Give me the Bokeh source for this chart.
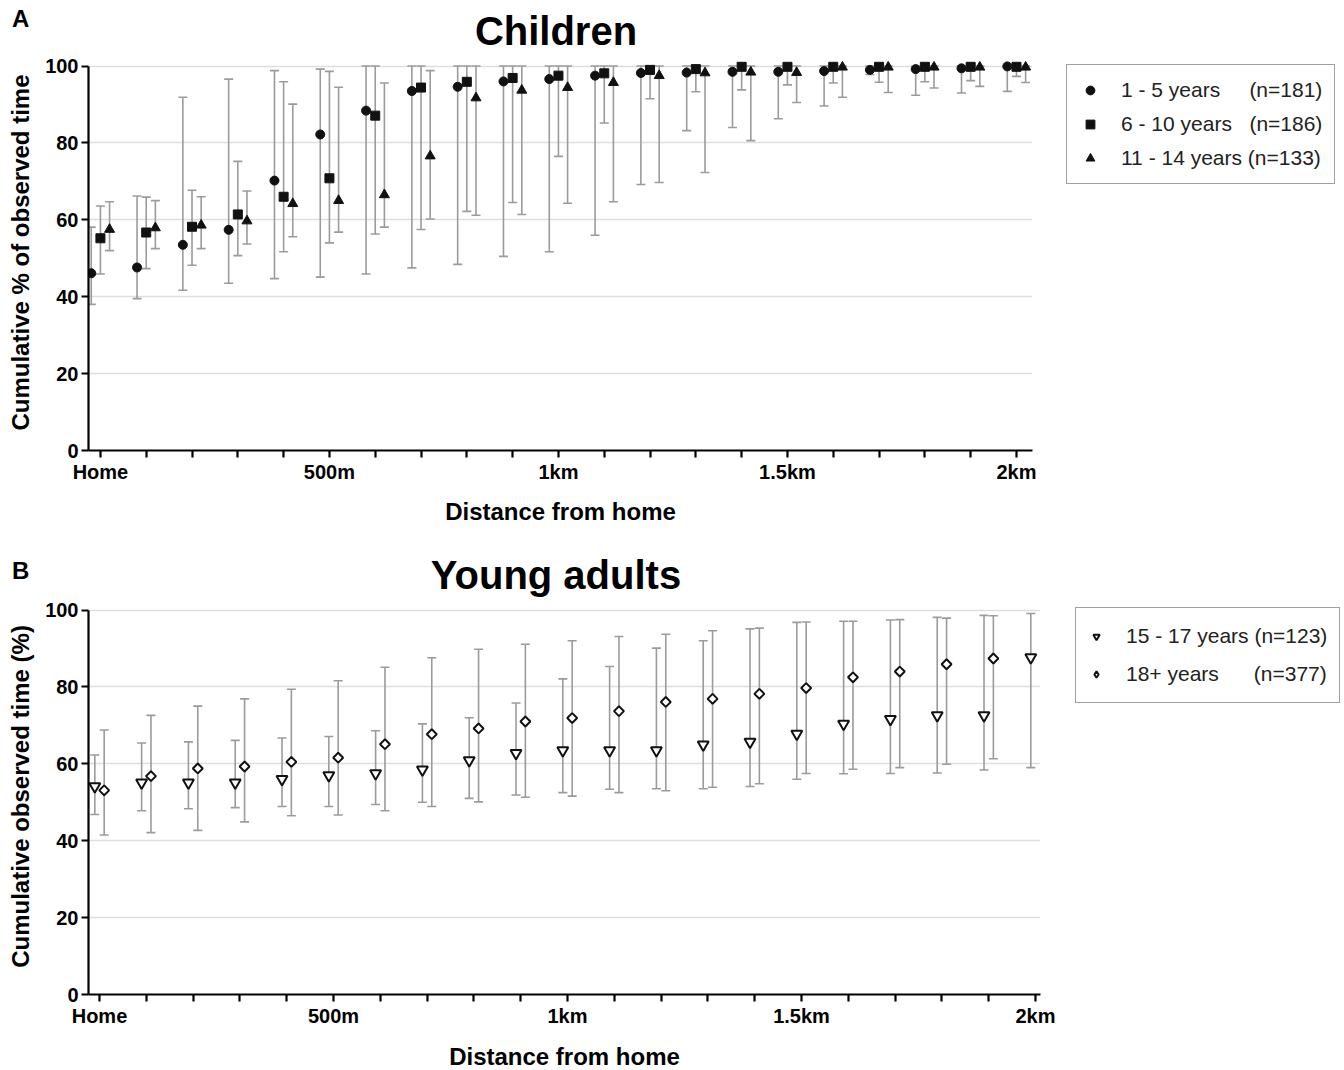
from bokeh.plotting import figure
from bokeh.models import (ColumnDataSource, Whisker, TeeHead, FixedTicker, Range1d,
                          Legend, LegendItem, Div)
from bokeh.layouts import column
from bokeh.embed import file_html
from bokeh.resources import INLINE

# ---------------- data ----------------
distances = [0, 100, 200, 300, 400, 500, 600, 700, 800, 900, 1000,
             1100, 1200, 1300, 1400, 1500, 1600, 1700, 1800, 1900, 2000]
tick_labels = {0: "Home", 500: "500m", 1000: "1km", 1500: "1.5km", 2000: "2km"}
y_ticks = [0, 20, 40, 60, 80, 100]

# Panel A - children
a1_label = "1 - 5 years"
a1_n = "(n=181)"
a1_mean = [46.1, 47.6, 53.5, 57.4, 70.2, 82.2, 88.4, 93.5, 94.6, 96.0, 96.6,
           97.5, 98.2, 98.3, 98.5, 98.5, 98.7, 99.0, 99.2, 99.4, 99.9]
a1_low = [38.0, 39.5, 41.7, 43.5, 44.7, 45.1, 45.9, 47.5, 48.4, 50.5, 51.7,
          56.0, 69.2, 83.2, 84.0, 86.3, 89.6, 97.8, 92.4, 93.0, 93.4]
a1_high = [58.1, 66.2, 91.9, 96.6, 98.8, 99.2, 100, 100, 100, 100, 100,
           100, 100, 100, 100, 100, 100, 100, 100, 100, 100]

a2_label = "6 - 10 years"
a2_n = "(n=186)"
a2_mean = [55.2, 56.7, 58.2, 61.4, 66.0, 70.8, 87.1, 94.4, 95.9, 96.9, 97.5,
           98.1, 99.0, 99.2, 99.8, 99.8, 99.8, 99.8, 99.8, 99.8, 99.8]
a2_low = [45.9, 47.3, 48.2, 50.7, 51.7, 54.0, 56.3, 57.5, 62.2, 64.5, 76.5,
          85.2, 91.5, 93.3, 93.8, 95.1, 95.6, 95.8, 95.9, 96.2, 97.3]
a2_high = [63.6, 65.9, 67.7, 75.2, 95.9, 98.6, 100, 100, 100, 100, 100,
           100, 100, 100, 100, 100, 100, 100, 100, 100, 100]

a3_label = "11 - 14 years"
a3_n = "(n=133)"
a3_mean = [57.5, 57.9, 58.6, 59.7, 64.2, 65.0, 66.5, 76.6, 91.7, 93.7, 94.4,
           95.7, 97.5, 98.2, 98.4, 98.3, 99.7, 99.7, 99.7, 99.7, 99.7]
a3_low = [52.0, 52.5, 52.5, 53.7, 55.6, 56.8, 58.1, 60.2, 61.2, 61.4, 64.3,
          64.7, 69.7, 72.3, 80.6, 90.5, 91.9, 93.1, 94.3, 94.7, 95.7]
a3_high = [64.7, 65.0, 66.0, 67.5, 90.1, 94.5, 95.6, 98.8, 100, 100, 100,
           100, 100, 100, 100, 100, 100, 100, 100, 100, 100]

# Panel B - young adults
b1_label = "15 - 17 years"
b1_n = "(n=123)"
b1_mean = [54.1, 55.1, 55.1, 55.1, 56.0, 57.0, 57.5, 58.5, 60.9, 62.8, 63.5,
           63.5, 63.5, 65.0, 65.7, 67.8, 70.4, 71.6, 72.6, 72.6, 87.7]
b1_low = [46.8, 47.8, 48.3, 48.6, 48.9, 48.9, 49.4, 50.0, 51.0, 51.9, 52.5,
          53.4, 53.5, 53.5, 54.1, 56.0, 57.4, 57.5, 57.6, 58.4, 59.0]
b1_high = [62.3, 65.4, 65.7, 66.1, 66.7, 67.1, 68.6, 70.4, 72.0, 75.8, 82.1,
           85.3, 90.1, 92.0, 95.1, 96.8, 97.1, 97.4, 98.1, 98.6, 99.1]

b2_label = "18+ years"
b2_n = "(n=377)"
b2_mean = [53.1, 56.8, 58.8, 59.3, 60.5, 61.6, 65.1, 67.7, 69.2, 71.0, 71.9,
           73.7, 76.1, 76.9, 78.2, 79.7, 82.5, 84.0, 85.9, 87.4]
b2_low = [41.5, 42.1, 42.7, 44.9, 46.5, 46.7, 47.8, 48.9, 50.1, 51.3, 51.6,
          52.5, 53.0, 53.9, 54.8, 57.5, 58.6, 59.0, 59.9, 61.3]
b2_high = [68.8, 72.6, 75.0, 76.9, 79.4, 81.6, 85.1, 87.6, 89.8, 91.1, 92.0,
           93.1, 93.7, 94.6, 95.3, 96.9, 97.1, 97.5, 97.9, 98.5]

# ---------------- style ----------------
FONT = "Liberation Sans"
ERR_COLOR = "#9b9b9b"
MARK = "#111111"
GRID = "#dedede"
NBSP = "\u00a0"
TOTAL_W = 1340


def legend_text(label, n, pad):
    return label + NBSP * pad + n


def header(letter, title, height, letter_top, title_top):
    html = (
        f'<div style="position:relative;width:{TOTAL_W}px;height:{height}px;'
        f'font-family:\'Liberation Sans\',Arial,sans-serif;font-weight:bold;color:#000;">'
        f'<div style="position:absolute;left:12px;top:{letter_top}px;'
        f'font-size:24px;line-height:24px;">{letter}</div>'
        f'<div style="position:absolute;left:0px;width:1112px;text-align:center;'
        f'top:{title_top}px;font-size:40px;line-height:46px;">{title}</div>'
        f'</div>'
    )
    return Div(text=html, width=TOTAL_W, height=height, margin=(0, 0, 0, 0))


def make_panel(x_start, x_end, frame_w, bottom, ylabel, label_standoff, total_w):
    p = figure(frame_width=frame_w, frame_height=396,
               x_range=Range1d(x_start, x_end), y_range=Range1d(0, 103),
               output_backend="svg", toolbar_location=None, title_location=None,
               min_border_left=88, min_border_right=total_w - 88 - frame_w,
               min_border_top=0, min_border_bottom=bottom)
    p.outline_line_color = None
    p.background_fill_color = "white"
    p.xgrid.visible = False
    p.ygrid.ticker = FixedTicker(ticks=y_ticks)
    p.ygrid.grid_line_color = GRID
    p.ygrid.grid_line_width = 1.5

    for ax in (p.xaxis[0], p.yaxis[0]):
        ax.axis_line_width = 2.2
        ax.axis_line_color = "black"
        ax.major_tick_line_width = 2.2
        ax.major_tick_line_color = "black"
        ax.major_tick_out = 7
        ax.major_tick_in = 0
        ax.minor_tick_line_color = None
        ax.major_label_text_font = FONT
        ax.major_label_text_font_style = "bold"
        ax.major_label_text_font_size = "20px"
        ax.major_label_text_color = "black"
        ax.axis_label_text_font = FONT
        ax.axis_label_text_font_style = "bold"
        ax.axis_label_text_font_size = "24px"
        ax.axis_label_text_color = "black"

    xa = p.xaxis[0]
    xa.ticker = FixedTicker(ticks=distances)
    xa.major_label_overrides = {d: tick_labels.get(d, "") for d in distances}
    xa.major_label_standoff = 3
    xa.axis_label = "Distance from home"
    xa.axis_label_standoff = label_standoff

    ya = p.yaxis[0]
    ya.ticker = FixedTicker(ticks=y_ticks)
    ya.bounds = (0, 100)
    ya.major_label_standoff = 3
    ya.axis_label = ylabel
    ya.axis_label_standoff = 8
    return p


def add_series(p, dist, mean, low, high, offset, marker, size, fill, line_w,
               angle=0.0):
    src = ColumnDataSource(dict(x=[d + offset for d in dist], y=mean,
                                lo=low, hi=high))
    w = Whisker(base="x", lower="lo", upper="hi", source=src, dimension="height",
                line_color=ERR_COLOR, line_width=1.6,
                lower_head=TeeHead(size=9, line_color=ERR_COLOR, line_width=1.6),
                upper_head=TeeHead(size=9, line_color=ERR_COLOR, line_width=1.6))
    p.add_layout(w)
    r = p.scatter("x", "y", source=src, marker=marker, size=size,
                  fill_color=fill, line_color=MARK, line_width=line_w,
                  angle=angle)
    return r


def style_legend(leg, pad, lh, spacing, gw, standoff):
    leg.border_line_color = "#444444"
    leg.border_line_width = 1.5
    leg.background_fill_color = "white"
    leg.background_fill_alpha = 1.0
    leg.label_text_font = FONT
    leg.label_text_font_size = "21px"
    leg.label_text_color = "#222222"
    leg.padding = pad
    leg.label_height = lh
    leg.glyph_height = lh
    leg.glyph_width = gw
    leg.spacing = spacing
    leg.label_standoff = standoff
    leg.margin = 0


# ---------------- panel A ----------------
head_a = header("A", "Children", 54, 7, 8)
pa = make_panel(-26, 2035, 944, 102, "Cumulative % of observed time", 12, TOTAL_W)
ra1 = add_series(pa, distances, a1_mean, a1_low, a1_high, -20, "circle", 9, MARK, 1)
ra2 = add_series(pa, distances, a2_mean, a2_low, a2_high, 0, "square", 9, MARK, 1)
ra3 = add_series(pa, distances, a3_mean, a3_low, a3_high, 20, "triangle", 10, MARK, 1)

leg_a = Legend(items=[
    LegendItem(label=legend_text(a1_label, a1_n, 5), renderers=[ra1]),
    LegendItem(label=legend_text(a2_label, a2_n, 3), renderers=[ra2]),
    LegendItem(label=legend_text(a3_label, a3_n, 1), renderers=[ra3]),
], location=(34, 266))
style_legend(leg_a, 12, 26, 8, 22, 20)
pa.add_layout(leg_a, "right")

# ---------------- panel B ----------------
head_b = header("B", "Young adults", 46, 7, 0)
pb = make_panel(-23.5, 2010.7, 952, 76, "Cumulative observed time (%)", 13, 1344)
rb1 = add_series(pb, distances, b1_mean, b1_low, b1_high, -10,
                 "inverted_triangle", 11, "white", 2)
rb2 = add_series(pb, distances[:len(b2_mean)], b2_mean, b2_low, b2_high, 10,
                 "square", 7, "white", 2, angle=0.785398)
# legend key for the diamond series (legend swatches are not rotated, so a
# diamond-shaped key with the same styling is used; it has no plotted point)
rb2_key = pb.scatter(x=[float("nan")], y=[float("nan")], marker="diamond",
                     size=11, fill_color="white", line_color=MARK, line_width=2)

leg_b = Legend(items=[
    LegendItem(label=legend_text(b1_label, b1_n, 1), renderers=[rb1]),
    LegendItem(label=legend_text(b2_label, b2_n, 6), renderers=[rb2_key]),
], location=(35, 291))
style_legend(leg_b, 12, 32, 6, 16, 22)
pb.add_layout(leg_b, "right")

layout = column(head_a, pa, head_b, pb, spacing=0)
open("out.html", "w").write(file_html(layout, INLINE))
